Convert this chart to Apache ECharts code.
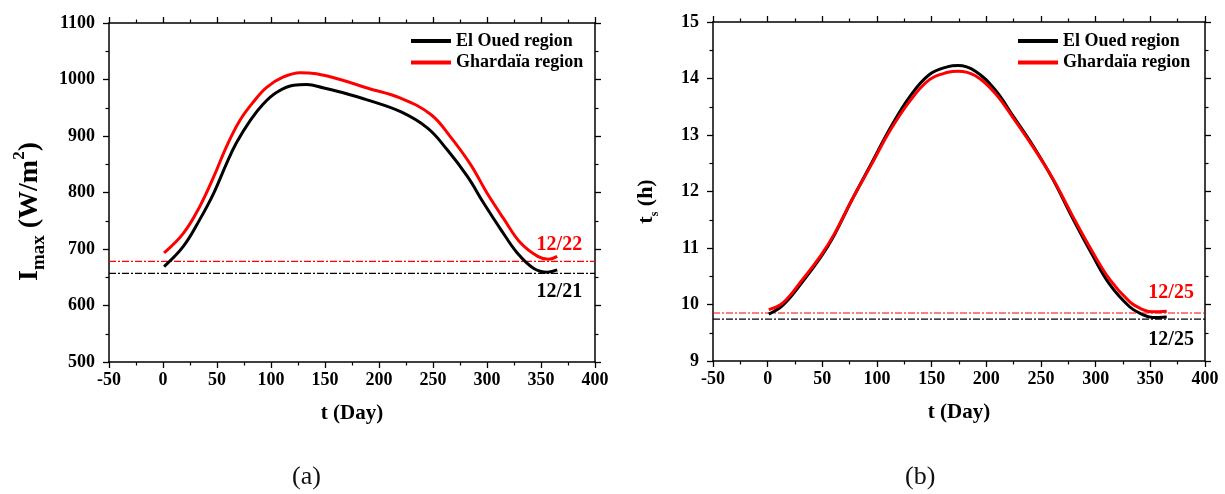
<!DOCTYPE html>
<html>
<head>
<meta charset="utf-8">
<title>Imax and sunshine duration</title>
<script src="https://cdn.jsdelivr.net/npm/echarts@6/dist/echarts.min.js"></script>
<style>
  html, body { margin: 0; padding: 0; background: #ffffff; }
  #chart { width: 1225px; height: 494px; }
</style>
</head>
<body>
<div id="chart"></div>
<script>
// ---- Panel (a): maximum irradiance Imax (W/m2) vs day of year ----
const imaxDaysElOued = [1, 19, 34, 47, 59, 68, 81, 93, 105, 121, 133, 149, 164, 189, 220, 245, 263, 282, 297, 313, 328, 343, 356, 365];
const imaxElOued     = [669, 705, 752, 799, 852, 888, 928, 957, 977, 990, 991, 985, 978, 964, 943, 914, 876, 828, 781, 734, 693, 666, 659, 663];
const imaxDaysGhardaia = [1, 19, 34, 47, 59, 71, 84, 96, 111, 127, 142, 164, 189, 220, 248, 266, 285, 300, 316, 331, 347, 357, 365];
const imaxGhardaia     = [693, 728, 775, 828, 882, 927, 961, 986, 1004, 1012, 1010, 1000, 985, 967, 938, 899, 849, 799, 752, 711, 687, 682, 687];
const imaxRefElOued = 657;     // minimum level, 12/21
const imaxRefGhardaia = 678;   // minimum level, 12/22

// ---- Panel (b): sunshine duration ts (h) vs day of year ----
const tsDays = [1, 14, 31, 49, 61, 77, 95, 112, 130, 148, 165, 174, 190, 208, 225, 243, 261, 278, 296, 313, 331, 342, 352, 365];
const tsElOued   = [9.83, 9.99, 10.38, 10.85, 11.23, 11.85, 12.50, 13.12, 13.68, 14.07, 14.21, 14.23, 14.13, 13.80, 13.32, 12.80, 12.21, 11.56, 10.91, 10.35, 9.96, 9.83, 9.77, 9.78];
const tsGhardaia = [9.91, 10.03, 10.42, 10.88, 11.25, 11.85, 12.48, 13.08, 13.60, 13.98, 14.11, 14.13, 14.05, 13.74, 13.29, 12.78, 12.22, 11.60, 10.97, 10.44, 10.05, 9.92, 9.87, 9.88];
const tsRefElOued = 9.74;
const tsRefGhardaia = 9.85;

// Day range covered by the horizontal reference lines
const refSpan = [-50, 400];

// Date annotations [day, value, text]
const imaxNoteGhardaia = [367, 707, '12/22'];
const imaxNoteElOued   = [367, 624, '12/21'];
const tsNoteGhardaia   = [369, 10.20, '12/25'];
const tsNoteElOued     = [369, 9.38, '12/25'];

const seriesNames = ['El Oued region', 'Ghardaïa region'];
const panelLabels = ['(a)', '(b)'];

const FONT = '"Liberation Serif", "DejaVu Serif", serif';
const BLACK = '#000000';
const RED = '#ff0000';

const zip = (xs, ys) => xs.map((x, i) => [x, ys[i]]);

function xAxis(gridIndex, position) {
  const main = position === 'bottom';
  return {
    type: 'value', gridIndex, position,
    min: -50, max: 400, interval: 50,
    axisLine: { onZero: false, lineStyle: { color: BLACK, width: 1.5 } },
    axisTick: { show: true, inside: false, length: 6, lineStyle: { color: BLACK, width: 1.3 } },
    minorTick: { show: true, splitNumber: 2, length: 3.5, lineStyle: { color: BLACK, width: 1.2 } },
    splitLine: { show: false },
    axisLabel: { show: main, margin: 9, color: BLACK, fontFamily: FONT, fontWeight: 'bold', fontSize: 18,
                 formatter: v => String(v) },
    name: main ? 't (Day)' : '',
    nameLocation: 'middle', nameGap: 41,
    nameTextStyle: { color: BLACK, fontFamily: FONT, fontWeight: 'bold', fontSize: 21 }
  };
}

function yAxis(gridIndex, position, min, max, interval, name, nameGap, nameStyle) {
  const main = position === 'left';
  return {
    type: 'value', gridIndex, position,
    min, max, interval,
    axisLine: { onZero: false, lineStyle: { color: BLACK, width: 1.5 } },
    axisTick: { show: true, inside: false, length: 6, lineStyle: { color: BLACK, width: 1.3 } },
    minorTick: { show: true, splitNumber: 2, length: 3.5, lineStyle: { color: BLACK, width: 1.2 } },
    splitLine: { show: false },
    axisLabel: { show: main, margin: 14, color: BLACK, fontFamily: FONT, fontWeight: 'bold', fontSize: 18,
                 formatter: v => String(v) },
    name: main ? name : '',
    nameLocation: 'middle', nameGap, nameRotate: 90,
    nameTextStyle: nameStyle
  };
}

function nameStyle(mainSize, subSize, supSize, lineH, shift) {
  const base = { fontFamily: FONT, fontWeight: 'bold', color: BLACK, lineHeight: lineH };
  return {
    color: BLACK, fontFamily: FONT, fontWeight: 'bold',
    padding: [0, shift, 0, 0],
    rich: {
      i:   Object.assign({ fontSize: mainSize, verticalAlign: 'middle' }, base),
      sub: Object.assign({ fontSize: subSize, verticalAlign: 'bottom' }, base),
      sup: Object.assign({ fontSize: supSize, verticalAlign: 'top' }, base)
    }
  };
}

function note(n, color) {
  return {
    symbol: 'circle', symbolSize: 0, silent: true,
    label: { show: true, position: 'inside', formatter: '{b}', color, fontFamily: FONT, fontWeight: 'bold', fontSize: 20 },
    data: [{ name: n[2], coord: [n[0], n[1]] }]
  };
}

function curve(name, color, xi, yi, data, noteData) {
  return {
    name, type: 'line', xAxisIndex: xi, yAxisIndex: yi,
    data, smooth: 0.4, showSymbol: false, symbol: 'none',
    lineStyle: { color, width: 3 }, itemStyle: { color },
    z: color === RED ? 4 : 3,
    markPoint: note(noteData, color)
  };
}

// Dash-dot horizontal level line across the whole day range
function level(color, xi, yi, value) {
  return {
    type: 'line', xAxisIndex: xi, yAxisIndex: yi, silent: true,
    data: refSpan.map(d => [d, value]),
    showSymbol: false, symbol: 'none',
    lineStyle: { color, width: 1.2, type: [7, 2, 2, 2] },
    itemStyle: { color },
    z: 2
  };
}

function legend(left) {
  return {
    data: seriesNames, orient: 'vertical', left, top: 32, padding: 0,
    icon: 'rect', itemWidth: 40, itemHeight: 4, itemGap: 3.6,
    selectedMode: false,
    textStyle: { color: BLACK, fontFamily: FONT, fontWeight: 'bold', fontSize: 18, lineHeight: 18 }
  };
}

const chart = echarts.init(document.getElementById('chart'), null, { renderer: 'canvas' });

chart.setOption({
  animation: false,
  backgroundColor: '#ffffff',
  grid: [
    { left: 109, top: 23, width: 486, height: 339 },
    { left: 713, top: 22, width: 492, height: 339 }
  ],
  legend: [legend(411), legend(1018)],
  xAxis: [xAxis(0, 'bottom'), xAxis(0, 'top'), xAxis(1, 'bottom'), xAxis(1, 'top')],
  yAxis: [
    yAxis(0, 'left', 500, 1100, 100, '{i|I}{sub|max}{i| (W/m}{sup|2}{i|)}', 60, nameStyle(28, 19, 17, 38, 38)),
    yAxis(0, 'right', 500, 1100, 100, '', 0, {}),
    yAxis(1, 'left', 9, 15, 1, '{i|t}{sub|s}{i| (h)}', 52, nameStyle(22, 12, 12, 30, 20)),
    yAxis(1, 'right', 9, 15, 1, '', 0, {})
  ],
  series: [
    level(BLACK, 0, 0, imaxRefElOued),
    level(RED, 0, 0, imaxRefGhardaia),
    level(BLACK, 2, 2, tsRefElOued),
    level(RED, 2, 2, tsRefGhardaia),
    curve(seriesNames[0], BLACK, 0, 0, zip(imaxDaysElOued, imaxElOued), imaxNoteElOued),
    curve(seriesNames[1], RED, 0, 0, zip(imaxDaysGhardaia, imaxGhardaia), imaxNoteGhardaia),
    curve(seriesNames[0], BLACK, 2, 2, zip(tsDays, tsElOued), tsNoteElOued),
    curve(seriesNames[1], RED, 2, 2, zip(tsDays, tsGhardaia), tsNoteGhardaia)
  ],
  graphic: [
    { type: 'text', left: 292, top: 464, style: { text: panelLabels[0], font: '26px ' + FONT, fill: '#111' } },
    { type: 'text', left: 905, top: 464, style: { text: panelLabels[1], font: '26px ' + FONT, fill: '#111' } }
  ]
});
</script>
</body>
</html>
